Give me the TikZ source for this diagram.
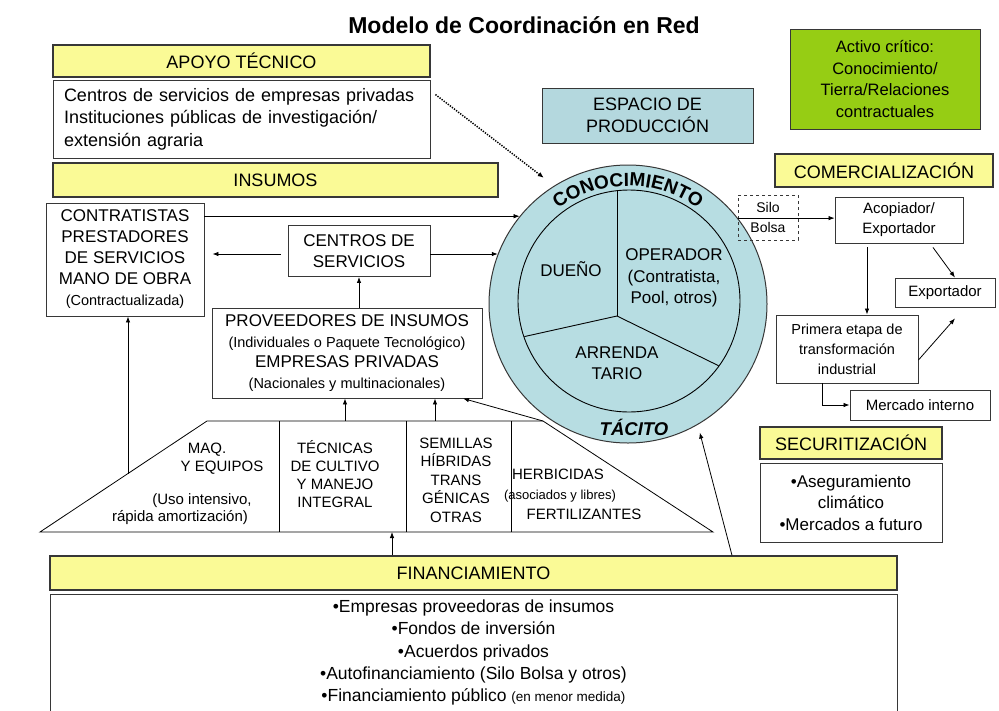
\documentclass[tikz,border=0pt]{standalone}
\usepackage{fontspec}
\setmainfont{Liberation Sans}
\usetikzlibrary{arrows.meta,decorations.text,calc}
\newcommand{\myfs}[2]{\fontsize{#1pt}{#2pt}\selectfont}
\newcommand{\arcfont}{\bfseries\fontsize{19pt}{19pt}\selectfont}
\definecolor{hdryellow}{RGB}{250,250,150}
\definecolor{ringblue}{RGB}{183,221,226}
\definecolor{espblue}{RGB}{180,216,222}
\definecolor{activegreen}{RGB}{150,205,20}
\definecolor{edgegray}{RGB}{55,55,55}
\begin{document}
\begin{tikzpicture}[x=1pt,y=-1pt,
  base/.style={draw=edgegray, line width=0.9pt, fill=white, inner sep=0pt, align=center, text=black},
  hdr/.style={base, fill=hdryellow, line width=1.3pt, font=\myfs{18}{22}},
  cell/.style={inner sep=0pt, align=center, font=\myfs{15}{18.5}},
  arr/.style={-{Latex[length=6pt,width=4.5pt]}, line width=0.8pt, draw=black},
  trap/.style={draw=black, line width=0.8pt}]
\useasboundingbox (0,0) rectangle (999,710);
\fill[white] (0,0) rectangle (999,710);

% title
\node[font=\bfseries\myfs{23}{27}] (title) at (524,25) {Modelo de Coordinación en Red};

% circle
\node[circle, draw=edgegray, line width=1pt, fill=ringblue, minimum size=278pt, inner sep=0pt] (circ) at (628,304) {};
\node[circle, draw=black, line width=0.9pt, minimum size=222pt, inner sep=0pt] (inner) at (629,301) {};
\begin{scope}
  \clip (629,301) circle[radius=110.5pt];
  \draw[line width=0.9pt] (617,316) -- (617,150);
  \draw[line width=0.9pt] (617,316) -- (500,342);
  \draw[line width=0.9pt] (617,316) -- (740,376.2);
\end{scope}
\begin{scope}[shift={(circ.center)}, x=1pt, y=1pt]
  \path[decorate, decoration={text along path, text align=center, text={|\arcfont|CONOCIMIENTO}}]
    (155:118pt) arc[start angle=155, end angle=25, radius=118pt];
\end{scope}
\node[font=\bfseries\itshape\myfs{18.5}{18.5}] (tacito) at (634,427) {TÁCITO};
\node[font=\myfs{17}{21}] (dueno) at (571,269) {DUEÑO};
\node[font=\myfs{17}{21.5}, align=center] (oper) at (674,278) {OPERADOR\\(Contratista,\\Pool, otros)};
\node[font=\myfs{17}{21}, align=center] (arrend) at (617,363.5) {ARRENDA\\TARIO};

% left boxes
\node[hdr, minimum width=377pt, minimum height=32pt] (apoyoH) at (241.5,61) {APOYO TÉCNICO};
\node[base, minimum width=377pt, minimum height=78pt, text width=355pt, align=left, font=\myfs{18}{22.5}] (apoyoB) at (241.5,119) {Centros de servicios de empresas privadas\\Instituciones públicas de investigación/\\extensión agraria};
\node[hdr, minimum width=445pt, minimum height=34pt] (insH) at (275.5,180) {INSUMOS};
\node[base, minimum width=158pt, minimum height=113pt, font=\myfs{17}{21}] (contr) at (125,259.5) {CONTRATISTAS\\PRESTADORES\\DE SERVICIOS\\MANO DE OBRA\\{\myfs{14.5}{21}(Contractualizada)}};
\node[base, minimum width=142pt, minimum height=51pt, font=\myfs{17}{20.5}] (centros) at (359,251) {CENTROS DE\\SERVICIOS};
\node[base, minimum width=270pt, minimum height=90pt, font=\myfs{17}{20.7}] (prov) at (347,353) {PROVEEDORES DE INSUMOS\\{\myfs{14.5}{20.7}(Individuales o Paquete Tecnológico)}\\EMPRESAS PRIVADAS\\{\myfs{14.5}{20.7}(Nacionales y multinacionales)}};

% top right
\node[base, fill=espblue, minimum width=211pt, minimum height=55pt, font=\myfs{18}{22}] (esp) at (647.5,115.5) {ESPACIO DE\\PRODUCCIÓN};
\node[base, fill=activegreen, minimum width=190pt, minimum height=100pt, font=\myfs{16.5}{21.7}] (activo) at (885,79) {Activo crítico:\\Conocimiento/\\Tierra/Relaciones\\contractuales};
\node[hdr, minimum width=218pt, minimum height=33pt] (comH) at (884,170.5) {COMERCIALIZACIÓN};
\node[draw=edgegray, dashed, line width=0.9pt, minimum width=60pt, minimum height=45pt, inner sep=0pt, align=center, font=\myfs{14}{20}] (silo) at (768,217.5) {Silo\\Bolsa};
\node[base, minimum width=128pt, minimum height=46pt, font=\myfs{15}{20}] (acop) at (899,220) {Acopiador/\\Exportador};
\node[base, minimum width=100pt, minimum height=29pt, font=\myfs{15}{20}] (expo) at (945,292.5) {Exportador};
\node[base, minimum width=142pt, minimum height=68pt, font=\myfs{14.5}{20}] (prim) at (847,349) {Primera etapa de\\transformación\\industrial};
\node[base, minimum width=140pt, minimum height=30pt, font=\myfs{15}{20}] (merc) at (920,405) {Mercado interno};
\node[hdr, minimum width=182pt, minimum height=32pt] (secH) at (851,443) {SECURITIZACIÓN};
\node[base, minimum width=182pt, minimum height=79pt, font=\myfs{17}{21.5}] (secB) at (851,502.5) {•Aseguramiento\\climático\\•Mercados a futuro};

% financiamiento
\node[hdr, minimum width=847pt, minimum height=34pt] (finH) at (473.5,573) {FINANCIAMIENTO};
\node[base, minimum width=847pt, minimum height=117pt, font=\myfs{17.5}{22.2}] (finB) at (473.5,652.5) {•Empresas proveedoras de insumos\\•Fondos de inversión\\•Acuerdos privados\\•Autofinanciamiento (Silo Bolsa y otros)\\•Financiamiento público {\myfs{13.5}{22.2}(en menor medida)}};

% trapezoid
\coordinate (tBL) at (40,532);
\coordinate (tTL) at (207,421);
\coordinate (tTR) at (543,421);
\coordinate (tBR) at (713,532);
\draw[trap] (tBL) -- (tTL) -- (tTR) -- (tBR) -- cycle;
\draw[trap] (279,421) -- (279,532);
\draw[trap] (406,421) -- (406,532);
\draw[trap] (511,421) -- (511,532);
\node[cell] (maq1) at (207,450) {MAQ.};
\node[cell] (maq2) at (222,468) {Y EQUIPOS};
\node[cell] (maq3) at (202,501) {(Uso intensivo,};
\node[cell] (maq4) at (180,518) {rápida amortización)};
\node[cell, font=\myfs{15}{18}] (tec) at (335,474) {TÉCNICAS\\DE CULTIVO\\Y MANEJO\\INTEGRAL};
\node[cell] (sem) at (456,480) {SEMILLAS\\HÍBRIDAS\\TRANS\\GÉNICAS\\OTRAS};
\node[cell] (her1) at (558,474.5) {HERBICIDAS};
\node[cell, font=\myfs{13}{16}] (her2) at (560,496) {(asociados y libres)};
\node[cell] (her3) at (584,514) {FERTILIZANTES};

% connectors
\coordinate (cL1) at (circ.141.2);
\coordinate (cL2) at (circ.159.4);
\coordinate (cR1) at (circ.38.8);
\draw[arr] (contr.east |- cL1) -- (cL1);
\draw[arr] (centros.east |- cL2) -- (cL2);
\draw[arr, shorten <=7pt, shorten >=8pt] (centros.west |- cL2) -- (contr.east |- cL2);
\draw[arr] (prov.north -| centros.south) -- (centros.south);
\coordinate (tLa) at (128,473.5);
\draw[arr] (tLa) -- (contr.south -| tLa);
\coordinate (tT1) at (345,421);
\coordinate (tT2) at (435,421);
\draw[arr] (tT1) -- (prov.south -| tT1);
\draw[arr] (tT2) -- (prov.south -| tT2);
\draw[arr] (tTR) -- (prov.south -| 463,0);
\coordinate (tB1) at (392,532);
\draw[arr] (finH.north -| tB1) -- (tB1);
\draw[arr, shorten >=8pt] (finH.north -| 732,0) -- (circ.-60);
\draw[-{Latex[length=6pt,width=5pt]}, line width=1.5pt, dash pattern=on 1.3pt off 1.3pt, shorten >=13pt] ($(apoyoB.north east)+(5,15)$) -- (circ.122);
\draw[arr] (cR1) -- (acop.west |- cR1);
\draw[arr] ([xshift=34pt,yshift=-4pt]acop.south) -- ([xshift=10pt]expo.north);
\draw[arr] ([xshift=-32pt,yshift=-4pt]acop.south) -- (prim.north -| 867,0);
\draw[arr] ([yshift=-11pt]prim.east) -- ([xshift=10pt,yshift=-11pt]expo.south);
\draw[arr] ([xshift=-25pt]prim.south) |- (merc.west);
\end{tikzpicture}
\end{document}
